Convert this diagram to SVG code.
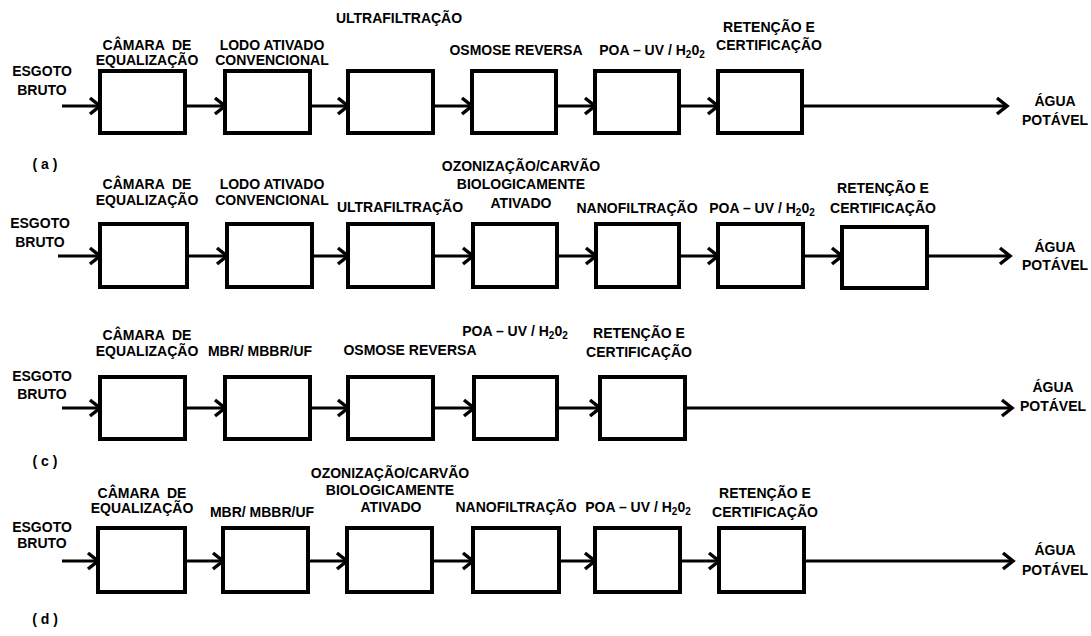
<svg xmlns="http://www.w3.org/2000/svg" width="1091" height="636" viewBox="0 0 1091 636">
<style>
text{font-family:"Liberation Sans",Arial,sans-serif;font-weight:bold;font-size:14px;fill:#000;text-anchor:middle;white-space:pre}
.box{fill:#fff;stroke:#000;stroke-width:4}
.c{fill:none;stroke:#000;stroke-width:3}
.sub{font-size:10px}
</style>
<defs>
<marker id="arr" markerUnits="userSpaceOnUse" markerWidth="18" markerHeight="22" refX="13" refY="11" orient="auto">
<path d="M3,3 L13,11 L3,19" fill="none" stroke="#000" stroke-width="3.5"/>
</marker>
</defs>
<rect width="1091" height="636" fill="#fff"/>
<g id="connectors">
<line class="c" x1="62" y1="106" x2="100" y2="106" marker-end="url(#arr)"/>
<line class="c" x1="185" y1="106" x2="225" y2="106" marker-end="url(#arr)"/>
<line class="c" x1="310" y1="106" x2="348" y2="106" marker-end="url(#arr)"/>
<line class="c" x1="433" y1="106" x2="472" y2="106" marker-end="url(#arr)"/>
<line class="c" x1="556" y1="106" x2="595" y2="106" marker-end="url(#arr)"/>
<line class="c" x1="679" y1="106" x2="718" y2="106" marker-end="url(#arr)"/>
<line class="c" x1="802" y1="106" x2="1007" y2="106" marker-end="url(#arr)"/>
<line class="c" x1="58" y1="256" x2="100" y2="256" marker-end="url(#arr)"/>
<line class="c" x1="187" y1="256" x2="227" y2="256" marker-end="url(#arr)"/>
<line class="c" x1="312" y1="256" x2="348" y2="256" marker-end="url(#arr)"/>
<line class="c" x1="433" y1="256" x2="473" y2="256" marker-end="url(#arr)"/>
<line class="c" x1="557" y1="256" x2="596" y2="256" marker-end="url(#arr)"/>
<line class="c" x1="679" y1="256" x2="718" y2="256" marker-end="url(#arr)"/>
<line class="c" x1="803" y1="256" x2="842" y2="256" marker-end="url(#arr)"/>
<line class="c" x1="927" y1="256" x2="1010" y2="256" marker-end="url(#arr)"/>
<line class="c" x1="62" y1="408" x2="100" y2="408" marker-end="url(#arr)"/>
<line class="c" x1="185" y1="408" x2="225" y2="408" marker-end="url(#arr)"/>
<line class="c" x1="310" y1="408" x2="348" y2="408" marker-end="url(#arr)"/>
<line class="c" x1="433" y1="408" x2="474" y2="408" marker-end="url(#arr)"/>
<line class="c" x1="557" y1="408" x2="600" y2="408" marker-end="url(#arr)"/>
<line class="c" x1="685" y1="408" x2="1012" y2="408" marker-end="url(#arr)"/>
<line class="c" x1="62" y1="561" x2="98" y2="561" marker-end="url(#arr)"/>
<line class="c" x1="185" y1="561" x2="223" y2="561" marker-end="url(#arr)"/>
<line class="c" x1="308" y1="561" x2="347" y2="561" marker-end="url(#arr)"/>
<line class="c" x1="432" y1="561" x2="473" y2="561" marker-end="url(#arr)"/>
<line class="c" x1="559" y1="561" x2="595" y2="561" marker-end="url(#arr)"/>
<line class="c" x1="680" y1="561" x2="719" y2="561" marker-end="url(#arr)"/>
<line class="c" x1="804" y1="561" x2="1013" y2="561" marker-end="url(#arr)"/>
</g>

<g id="a-in"><text x="42" y="76">ESGOTO</text><text x="42" y="95">BRUTO</text></g>
<g id="a-n1"><rect class="box" x="100" y="71" width="85" height="62"/><text x="147" y="50">CÂMARA  DE</text><text x="147" y="65">EQUALIZAÇÃO</text></g>
<g id="a-n2"><rect class="box" x="225" y="71" width="85" height="62"/><text x="272" y="50">LODO ATIVADO</text><text x="272" y="65">CONVENCIONAL</text></g>
<g id="a-n3"><rect class="box" x="348" y="71" width="85" height="62"/><text x="399" y="23">ULTRAFILTRAÇÃO</text></g>
<g id="a-n4"><rect class="box" x="472" y="71" width="84" height="62"/><text x="516" y="55">OSMOSE REVERSA</text></g>
<g id="a-n5"><rect class="box" x="595" y="71" width="84" height="62"/><text x="652" y="55">POA – UV / H<tspan class="sub" dy="3">2</tspan><tspan dy="-3">0</tspan><tspan class="sub" dy="3">2</tspan></text></g>
<g id="a-n6"><rect class="box" x="718" y="71" width="84" height="62"/><text x="769" y="32">RETENÇÃO E</text><text x="769" y="50">CERTIFICAÇÃO</text></g>
<g id="a-out"><text x="1055" y="106">ÁGUA</text><text x="1055" y="125">POTÁVEL</text></g>
<g id="label-a"><text x="45" y="169">( a )</text></g>

<g id="b-in"><text x="40" y="228">ESGOTO</text><text x="40" y="247">BRUTO</text></g>
<g id="b-n1"><rect class="box" x="100" y="224" width="87" height="63"/><text x="147" y="189">CÂMARA  DE</text><text x="147" y="205">EQUALIZAÇÃO</text></g>
<g id="b-n2"><rect class="box" x="227" y="224" width="85" height="63"/><text x="272" y="189">LODO ATIVADO</text><text x="272" y="205">CONVENCIONAL</text></g>
<g id="b-n3"><rect class="box" x="348" y="224" width="85" height="63"/><text x="400" y="212">ULTRAFILTRAÇÃO</text></g>
<g id="b-n4"><rect class="box" x="473" y="224" width="84" height="63"/><text x="521" y="171">OZONIZAÇÃO/CARVÃO</text><text x="521" y="189">BIOLOGICAMENTE</text><text x="521" y="208">ATIVADO</text></g>
<g id="b-n5"><rect class="box" x="596" y="224" width="83" height="63"/><text x="637" y="213">NANOFILTRAÇÃO</text></g>
<g id="b-n6"><rect class="box" x="718" y="224" width="85" height="63"/><text x="762" y="213">POA – UV / H<tspan class="sub" dy="3">2</tspan><tspan dy="-3">0</tspan><tspan class="sub" dy="3">2</tspan></text></g>
<g id="b-n7"><rect class="box" x="842" y="227" width="85" height="61"/><text x="883" y="193">RETENÇÃO E</text><text x="883" y="213">CERTIFICAÇÃO</text></g>
<g id="b-out"><text x="1055" y="252">ÁGUA</text><text x="1055" y="270">POTÁVEL</text></g>

<g id="c-in"><text x="42" y="381">ESGOTO</text><text x="42" y="399">BRUTO</text></g>
<g id="c-n1"><rect class="box" x="100" y="377" width="85" height="62"/><text x="147" y="340">CÂMARA  DE</text><text x="147" y="356">EQUALIZAÇÃO</text></g>
<g id="c-n2"><rect class="box" x="225" y="377" width="85" height="62"/><text x="260" y="356">MBR/ MBBR/UF</text></g>
<g id="c-n3"><rect class="box" x="348" y="377" width="85" height="62"/><text x="410" y="355">OSMOSE REVERSA</text></g>
<g id="c-n4"><rect class="box" x="474" y="377" width="83" height="62"/><text x="515" y="336">POA – UV / H<tspan class="sub" dy="3">2</tspan><tspan dy="-3">0</tspan><tspan class="sub" dy="3">2</tspan></text></g>
<g id="c-n5"><rect class="box" x="600" y="377" width="85" height="62"/><text x="639" y="338">RETENÇÃO E</text><text x="639" y="357">CERTIFICAÇÃO</text></g>
<g id="c-out"><text x="1053" y="392">ÁGUA</text><text x="1053" y="411">POTÁVEL</text></g>
<g id="label-c"><text x="45" y="466">( c )</text></g>

<g id="d-in"><text x="42" y="532">ESGOTO</text><text x="42" y="548">BRUTO</text></g>
<g id="d-n1"><rect class="box" x="98" y="528" width="87" height="64"/><text x="142" y="498">CÂMARA  DE</text><text x="142" y="513">EQUALIZAÇÃO</text></g>
<g id="d-n2"><rect class="box" x="223" y="528" width="85" height="64"/><text x="262" y="517">MBR/ MBBR/UF</text></g>
<g id="d-n3"><rect class="box" x="347" y="528" width="85" height="64"/><text x="390" y="478">OZONIZAÇÃO/CARVÃO</text><text x="390" y="495">BIOLOGICAMENTE</text><text x="391" y="512">ATIVADO</text></g>
<g id="d-n4"><rect class="box" x="473" y="528" width="86" height="64"/><text x="516" y="512">NANOFILTRAÇÃO</text></g>
<g id="d-n5"><rect class="box" x="595" y="528" width="85" height="64"/><text x="638" y="512">POA – UV / H<tspan class="sub" dy="3">2</tspan><tspan dy="-3">0</tspan><tspan class="sub" dy="3">2</tspan></text></g>
<g id="d-n6"><rect class="box" x="719" y="528" width="85" height="64"/><text x="765" y="498">RETENÇÃO E</text><text x="765" y="517">CERTIFICAÇÃO</text></g>
<g id="d-out"><text x="1055" y="555">ÁGUA</text><text x="1055" y="575">POTÁVEL</text></g>
<g id="label-d"><text x="45" y="624">( d )</text></g>
</svg>
